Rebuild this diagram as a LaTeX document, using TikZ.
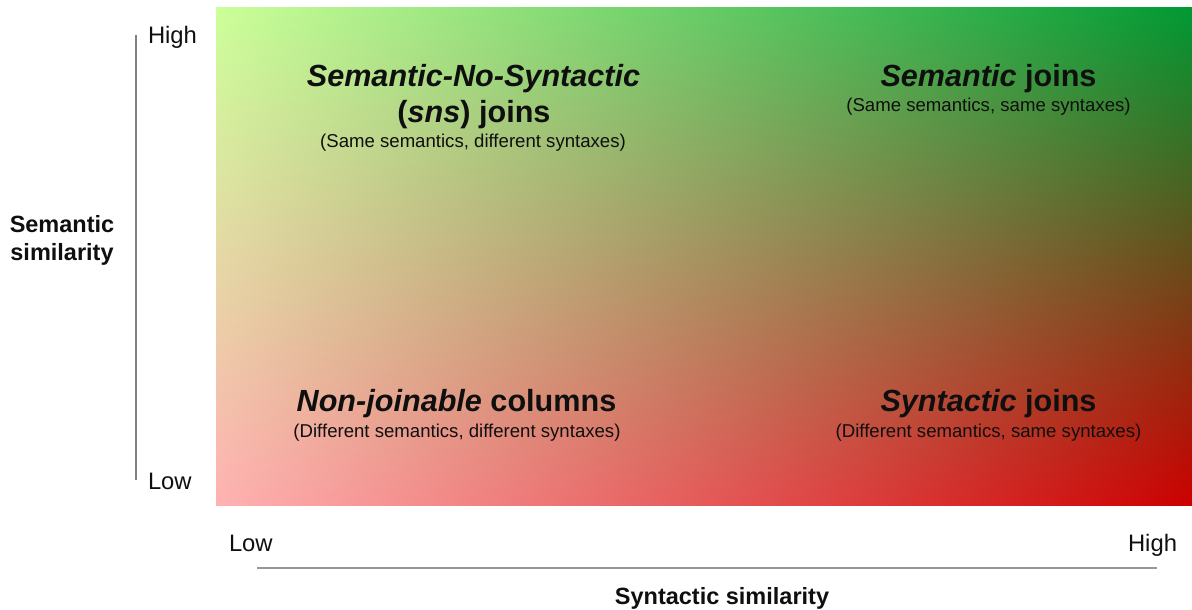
\documentclass[tikz,border=0pt]{standalone}
\usepackage{fontspec}
\setmainfont{Liberation Sans}
\usetikzlibrary{shadings}
\definecolor{cTL}{RGB}{204,255,153}
\definecolor{cTR}{RGB}{0,153,51}
\definecolor{cBL}{RGB}{255,178,178}
\definecolor{cBR}{RGB}{204,0,0}
\definecolor{axisgray}{RGB}{150,150,150}
\definecolor{txt}{RGB}{15,15,15}
\begin{document}
\begin{tikzpicture}[x=1pt,y=-1pt,
  every node/.style={inner sep=0pt, outer sep=0pt, anchor=base, text=txt},
  big/.style={font=\fontsize{30.6}{33}\selectfont\bfseries},
  small/.style={font=\fontsize{18.6}{20}\selectfont},
  ticklab/.style={font=\fontsize{23.8}{25}\selectfont},
  axlab/.style={font=\fontsize{23.5}{25}\selectfont\bfseries},
  axisline/.style={draw=axisgray, line width=1.6pt}]
\useasboundingbox (0,0) rectangle (1192,610);
\shade[upper left=cTL, upper right=cTR, lower left=cBL, lower right=cBR] (216,8) rectangle (1192,505);
% quadrant labels
\node[big] (snsA) at (473.5,87) {\itshape Semantic-No-Syntactic};
\node[big] (snsB) at (474,122) {(\textit{sns}) joins};
\node[small] (snsC) at (473,147) {(Same semantics, different syntaxes)};
\node[big] (semA) at (988.5,86) {\textit{Semantic} joins};
\node[small] (semB) at (988.5,111) {(Same semantics, same syntaxes)};
\node[big] (nonA) at (456.5,411) {\textit{Non-joinable} columns};
\node[small] (nonB) at (457,437) {(Different semantics, different syntaxes)};
\node[big] (synA) at (988.5,411) {\textit{Syntactic} joins};
\node[small] (synB) at (988.5,437) {(Different semantics, same syntaxes)};
% vertical axis
\coordinate (vtop) at (136,35);
\coordinate (vbot) at (136,480);
\draw[axisline, line width=1.2pt, draw=gray] (vtop) -- (vbot);
\node[ticklab, anchor=base west] (vhigh) at (148,44) {High};
\node[ticklab, anchor=base west] (vlow) at (148,489) {Low};
\node[axlab] (vlab1) at (62,232) {Semantic};
\node[axlab] (vlab2) at (62,260) {similarity};
% horizontal axis
\coordinate (hleft) at (257,568);
\coordinate (hright) at (1157,568);
\draw[axisline] (hleft) -- (hright);
\node[ticklab, anchor=base west] (hlow) at (229,551) {Low};
\node[ticklab, anchor=base east] (hhigh) at (1177,551) {High};
\node[axlab] (hlab) at (722,604) {Syntactic similarity};
\end{tikzpicture}
\end{document}
